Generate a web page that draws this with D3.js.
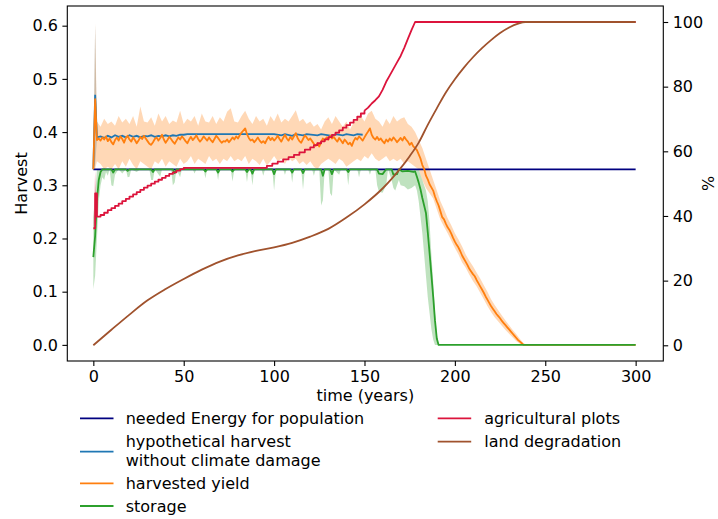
<!DOCTYPE html>
<html><head><meta charset="utf-8">
<script src="https://cdn.jsdelivr.net/npm/d3@7"></script>
<style>body{margin:0;background:#fff} text{font-family:"DejaVu Sans",sans-serif;}</style>
</head><body><svg id="chart" width="718" height="519"></svg>
<script>
// ---------------- DATA ----------------
const xTicks = [0, 50, 100, 150, 200, 250, 300];
const leftTicks = [0.0, 0.1, 0.2, 0.3, 0.4, 0.5, 0.6];
const rightTicks = [0, 20, 40, 60, 80, 100];

const neededYears = [0, 300];
const neededEnergy = [0.33, 0.33];

const hypoYears = [0,1,2,4,6,8,10,12,14,16,18,20,22,24,26,28,30,32,34,36,38,40,42,44,46,48,50,52,100,104,106,110,112,116,118,124,126,132,134,138,140,144,146,149];
const hypoHarvest = [0.33,0.47,0.39,0.392,0.389,0.393,0.39,0.394,0.391,0.393,0.39,0.394,0.391,0.393,0.39,0.393,0.392,0.394,0.391,0.393,0.392,0.394,0.392,0.394,0.393,0.395,0.395,0.396,0.396,0.394,0.396,0.393,0.396,0.394,0.396,0.394,0.396,0.393,0.396,0.394,0.396,0.394,0.396,0.395];
const hypoBand = [[0,0.33,0.33],[1,0.34,0.60],[2,0.385,0.395]];

// harvested yield, one value per year starting at year 0
const harvestedYield = [
0.330,0.462,0.385,0.388,0.384,0.390,0.386,0.392,0.383,0.388,
0.381,0.377,0.385,0.390,0.384,0.392,0.387,0.380,0.389,0.393,
0.386,0.382,0.390,0.385,0.379,0.384,0.391,0.387,0.393,0.388,
0.383,0.378,0.376,0.381,0.387,0.390,0.384,0.389,0.395,0.386,
0.380,0.385,0.391,0.387,0.382,0.378,0.384,0.390,0.386,0.392,
0.388,0.383,0.379,0.386,0.391,0.385,0.389,0.394,0.387,0.382,
0.386,0.392,0.388,0.384,0.390,0.385,0.381,0.387,0.393,0.389,
0.384,0.380,0.383,0.382,0.386,0.381,0.385,0.390,0.386,0.392,
0.388,0.394,0.399,0.403,0.407,0.396,0.389,0.384,0.386,0.381,
0.385,0.390,0.384,0.380,0.383,0.379,0.386,0.391,0.385,0.389,
0.384,0.388,0.393,0.387,0.382,0.389,0.395,0.388,0.384,0.391,
0.386,0.392,0.398,0.389,0.383,0.380,0.387,0.394,0.390,0.385,
0.388,0.383,0.378,0.374,0.379,0.373,0.381,0.388,0.384,0.390,
0.386,0.393,0.388,0.391,0.386,0.382,0.389,0.384,0.379,0.386,
0.382,0.377,0.380,0.374,0.383,0.389,0.386,0.392,0.388,0.384,
0.390,0.396,0.401,0.407,0.395,0.389,0.386,0.391,0.385,0.388,
0.383,0.379,0.386,0.382,0.388,0.384,0.390,0.386,0.381,0.385,
0.389,0.384,0.391,0.386,0.382,0.376,0.380,0.373,0.370,0.366,
0.358,0.350,0.338,0.331,0.318,0.311,0.302,0.296,0.290,0.279,
0.270,0.262,0.251,0.240,0.236,0.228,0.221,0.216,0.209,0.201,
0.194,0.188,0.183,0.176,0.168,0.162,0.156,0.150,0.143,0.138,
0.133,0.129,0.122,0.116,0.110,0.104,0.098,0.091,0.085,0.079,
0.073,0.068,0.063,0.058,0.054,0.050,0.045,0.041,0.037,0.033,
0.029,0.025,0.021,0.017,0.013,0.009,0.006,0.003,0.000];
const harvestedYieldEnd = [300, 0];

// [year, low, high]
const yieldBand = [
[0,0.33,0.33],[1,0.33,0.605],[2,0.345,0.42],[4,0.34,0.41],[6,0.33,0.425],[8,0.335,0.415],[10,0.33,0.42],[12,0.34,0.412],[14,0.33,0.43],[16,0.345,0.418],
[18,0.335,0.425],[20,0.35,0.415],[22,0.338,0.43],[24,0.33,0.41],[26,0.345,0.448],[28,0.34,0.42],[30,0.335,0.418],[32,0.33,0.428],[34,0.345,0.412],[36,0.34,0.435],
[38,0.35,0.42],[40,0.335,0.43],[42,0.345,0.415],[44,0.34,0.422],[46,0.335,0.418],[48,0.35,0.44],[50,0.34,0.415],[52,0.345,0.425],[54,0.355,0.42],[56,0.34,0.43],
[58,0.35,0.412],[60,0.345,0.435],[62,0.34,0.42],[64,0.355,0.418],[66,0.345,0.43],[68,0.35,0.415],[70,0.34,0.428],[72,0.35,0.42],[74,0.345,0.438],[76,0.355,0.445],
[78,0.345,0.42],[80,0.35,0.418],[82,0.345,0.43],[84,0.355,0.44],[86,0.34,0.425],[88,0.35,0.415],[90,0.345,0.43],[92,0.338,0.42],[94,0.35,0.425],[96,0.337,0.412],
[98,0.345,0.43],[100,0.355,0.42],[102,0.345,0.435],[104,0.35,0.418],[106,0.34,0.425],[108,0.352,0.42],[110,0.345,0.43],[112,0.35,0.441],[114,0.34,0.42],[116,0.345,0.425],
[118,0.338,0.415],[120,0.345,0.42],[122,0.335,0.41],[124,0.33,0.415],[126,0.34,0.405],[128,0.345,0.42],[130,0.35,0.428],[132,0.345,0.415],[134,0.34,0.43],[136,0.35,0.42],
[138,0.345,0.41],[140,0.335,0.42],[142,0.34,0.405],[144,0.345,0.418],[146,0.35,0.425],[148,0.345,0.43],[150,0.355,0.42],[152,0.35,0.435],[154,0.36,0.44],[156,0.35,0.425],
[158,0.345,0.42],[160,0.35,0.41],[162,0.355,0.425],[164,0.345,0.415],[166,0.35,0.43],[168,0.345,0.42],[170,0.35,0.425],[172,0.34,0.428],[174,0.345,0.415],[176,0.34,0.41],
[178,0.335,0.40],[180,0.33,0.385],[182,0.31,0.37],[184,0.295,0.35],[186,0.285,0.33],[188,0.275,0.31],[190,0.255,0.29],[192,0.235,0.27],[194,0.222,0.255],[196,0.21,0.238],
[198,0.196,0.225],[200,0.182,0.21],[202,0.17,0.198],[204,0.155,0.185],[206,0.145,0.17],[208,0.132,0.158],[210,0.12,0.148],[212,0.11,0.136],[214,0.098,0.125],[216,0.086,0.112],
[218,0.073,0.10],[220,0.062,0.086],[222,0.052,0.075],[224,0.044,0.065],[226,0.036,0.055],[228,0.028,0.046],[230,0.021,0.037],[232,0.014,0.028],[234,0.007,0.02],[236,0.002,0.011],
[238,0,0.003],[240,0,0]];

const storageYears = [0,1,2,3,4,5,10,11,12,18,19,20,32,33,34,44,45,46,61,62,63,68,69,70,76,77,78,84,85,86,87,88,89,99,100,101,109,110,111,115,116,117,126,127,128,131,132,133,140,141,142,157,158,160,162,165,166,168,169,171,174,177,178,179,180,181,182,183,184,185,186,187,188,189,190,191,300];
const storage = [0.165,0.205,0.272,0.31,0.325,0.33,0.33,0.324,0.33,0.33,0.327,0.33,0.33,0.325,0.33,0.33,0.323,0.33,0.33,0.326,0.33,0.33,0.324,0.33,0.33,0.326,0.33,0.33,0.325,0.33,0.33,0.322,0.33,0.33,0.321,0.33,0.33,0.324,0.33,0.33,0.323,0.33,0.33,0.318,0.33,0.33,0.321,0.33,0.33,0.325,0.33,0.33,0.322,0.321,0.33,0.33,0.32,0.321,0.33,0.326,0.327,0.325,0.326,0.316,0.305,0.292,0.276,0.262,0.248,0.212,0.173,0.132,0.091,0.046,0.012,0,0];

// [year, low, high]
const storageBand = [
[0,0.105,0.24],[1,0.13,0.28],[2,0.2,0.33],[3,0.27,0.33],[4,0.3,0.33],[5,0.315,0.33],[6,0.31,0.33],[7,0.325,0.33],[8,0.318,0.33],[9,0.33,0.33],
[10,0.3,0.33],[11,0.298,0.33],[12,0.32,0.33],[14,0.33,0.33],[16,0.322,0.33],[18,0.33,0.33],[19,0.315,0.33],[20,0.316,0.33],[21,0.33,0.33],[24,0.325,0.33],
[26,0.33,0.33],[31,0.33,0.33],[32,0.31,0.33],[33,0.31,0.33],[34,0.33,0.33],[37,0.316,0.33],[38,0.33,0.33],[43,0.33,0.33],[44,0.3,0.33],[45,0.305,0.33],
[46,0.33,0.33],[48,0.315,0.33],[49,0.33,0.33],[55,0.33,0.33],[56,0.322,0.33],[57,0.33,0.33],[61,0.33,0.33],[62,0.313,0.33],[63,0.33,0.33],[68,0.33,0.33],
[69,0.31,0.33],[70,0.33,0.33],[76,0.33,0.33],[77,0.307,0.33],[78,0.33,0.33],[84,0.33,0.33],[85,0.306,0.33],[86,0.33,0.33],[87,0.33,0.33],[88,0.3,0.33],
[89,0.33,0.33],[93,0.33,0.33],[94,0.318,0.33],[95,0.33,0.33],[99,0.33,0.33],[100,0.29,0.33],[101,0.33,0.33],[105,0.33,0.33],[106,0.32,0.33],[107,0.33,0.33],
[109,0.33,0.33],[110,0.305,0.33],[111,0.33,0.33],[115,0.33,0.33],[116,0.292,0.33],[117,0.33,0.33],[121,0.33,0.33],[122,0.318,0.33],[123,0.33,0.33],[125,0.33,0.33],
[126,0.262,0.33],[127,0.272,0.33],[128,0.33,0.33],[130,0.33,0.33],[131,0.285,0.33],[132,0.28,0.33],[133,0.33,0.33],[136,0.32,0.33],[137,0.33,0.33],[140,0.33,0.33],
[141,0.3,0.33],[142,0.33,0.33],[146,0.33,0.33],[147,0.315,0.33],[148,0.33,0.33],[152,0.33,0.33],[153,0.32,0.33],[154,0.33,0.33],[156,0.33,0.33],[157,0.3,0.33],
[158,0.288,0.33],[160,0.286,0.33],[162,0.3,0.33],[163,0.33,0.33],[165,0.31,0.33],[166,0.295,0.33],[167,0.29,0.33],[168,0.3,0.33],[169,0.31,0.33],[170,0.3,0.33],
[172,0.298,0.33],[174,0.292,0.33],[176,0.295,0.33],[178,0.3,0.33],[179,0.29,0.33],[180,0.27,0.33],[181,0.24,0.32],[182,0.21,0.31],[183,0.17,0.30],[184,0.13,0.29],
[185,0.09,0.27],[186,0.06,0.23],[187,0.03,0.17],[188,0.01,0.12],[189,0,0.06],[190,0,0.02],[191,0,0]];

// right axis (%)
const plotsYears = [0,1,2,4,6,8,10,12,14,16,18,20,22,24,26,28,30,32,34,36,38,40,42,44,46,48,50,96,99,102,105,108,111,114,117,120,122,124,126,128,130,132,134,136,138,140,142,144,146,148,150,152,154,156,158,160,162,164,166,168,170,172,174,176,178,300];
const agriculturalPlots = [36.2,47,39.8,40.3,41,41.8,42.4,43.1,43.8,44.6,45.3,46,46.7,47.4,48.1,48.8,49.4,50,50.6,51.2,51.8,52.4,53,53.5,54,54.5,54.9,55.5,56.2,56.8,57.5,58.2,58.9,59.7,60.5,61.2,61.9,62.5,63.1,63.7,64.4,65.1,65.8,66.5,67.3,68.1,68.9,69.7,70.7,71.7,72.6,73.5,74.8,75.8,77,79,81.5,83.5,85.5,87.5,89.5,92,94.8,97.5,100,100];
const plotsBand = [[0,36.2,36.2],[1,38,54],[2,39.5,40.5]];
const plotsStepUntil = 150;

const degradationYears = [0,10,20,30,40,50,60,70,80,90,100,110,120,130,140,150,160,165,170,175,180,185,190,195,200,205,210,215,220,225,230,235,239,300];
const landDegradation = [0,4.8,9.5,13.9,17.4,20.5,23.4,25.9,27.8,29.2,30.3,31.7,33.6,36,39.5,43.6,48.5,51.5,54.8,58.5,62.7,68.2,73.3,78.2,82.3,85.9,89.1,91.9,94.4,96.6,98.3,99.5,100,100];

const legendLabels = [["needed Energy for population"],["hypothetical harvest","without climate damage"],["harvested yield"],["storage"],["agricultural plots"],["land degradation"]];
const legendColors = ["#000080","#1f77b4","#ff7f0e","#2ca02c","#dc143c","#a0522d"];

// ---------------- DRAW ----------------
const svg = d3.select('#chart');
const P = {left:67.3, right:663.3, top:6, bottom:361};
const FS = 16;
const x = d3.scaleLinear().domain([-14.4, 315.3]).range([P.left, P.right]);
const yL = d3.scaleLinear().domain([-0.0303, 0.637]).range([P.bottom, P.top]);
const yR = d3.scaleLinear().domain([-4.86, 104.95]).range([P.bottom, P.top]);

svg.append('rect').attr('width',718).attr('height',519).attr('fill','#fff');
svg.append('clipPath').attr('id','clip').append('rect')
  .attr('x',P.left).attr('y',P.top).attr('width',P.right-P.left).attr('height',P.bottom-P.top);
const g = svg.append('g').attr('clip-path','url(#clip)');

const areaL = d3.area().x(d=>x(d[0])).y0(d=>yL(d[1])).y1(d=>yL(d[2]));
const areaR = d3.area().x(d=>x(d[0])).y0(d=>yR(d[1])).y1(d=>yR(d[2]));
const lineL = d3.line().x(d=>x(d[0])).y(d=>yL(d[1]));
const lineR = d3.line().x(d=>x(d[0])).y(d=>yR(d[1]));
const lineRStep = d3.line().curve(d3.curveStepAfter).x(d=>x(d[0])).y(d=>yR(d[1]));
const zip = (a,b)=>a.map((v,i)=>[v,b[i]]);

// bands
g.append('path').attr('d',areaL(hypoBand)).attr('fill','#1f77b4').attr('fill-opacity',0.3);
g.append('path').attr('d',areaL(yieldBand)).attr('fill','#ff7f0e').attr('fill-opacity',0.3);
g.append('path').attr('d',areaL(storageBand)).attr('fill','#2ca02c').attr('fill-opacity',0.3);

const sw = 1.8;
g.append('path').attr('d',lineL(zip(neededYears,neededEnergy))).attr('fill','none').attr('stroke',legendColors[0]).attr('stroke-width',sw);
g.append('path').attr('d',lineL(zip(hypoYears,hypoHarvest))).attr('fill','none').attr('stroke',legendColors[1]).attr('stroke-width',sw);
const yieldPts = harvestedYield.map((v,i)=>[i,v]).concat([harvestedYieldEnd]);
g.append('path').attr('d',lineL(yieldPts)).attr('fill','none').attr('stroke',legendColors[2]).attr('stroke-width',sw).attr('stroke-linejoin','round');
g.append('path').attr('d',lineL(zip(storageYears,storage))).attr('fill','none').attr('stroke',legendColors[3]).attr('stroke-width',sw).attr('stroke-linejoin','round');

// right axis series
g.append('path').attr('d',areaR(plotsBand)).attr('fill','#dc143c').attr('fill-opacity',0.3);
const plotsPts = zip(plotsYears,agriculturalPlots);
g.append('path').attr('d',lineRStep(plotsPts.filter(d=>d[0]<=plotsStepUntil)) + lineR(plotsPts.filter(d=>d[0]>=plotsStepUntil)))
  .attr('fill','none').attr('stroke',legendColors[4]).attr('stroke-width',sw).attr('stroke-linejoin','round');
g.append('path').attr('d',d3.line().curve(d3.curveMonotoneX).x(d=>x(d[0])).y(d=>yR(d[1]))(zip(degradationYears,landDegradation))).attr('fill','none').attr('stroke',legendColors[5]).attr('stroke-width',sw);

// frame
svg.append('rect').attr('x',P.left).attr('y',P.top).attr('width',P.right-P.left).attr('height',P.bottom-P.top)
  .attr('fill','none').attr('stroke','#000').attr('stroke-width',1.1);

function styleAxis(sel){
  sel.select('.domain').remove();
  sel.selectAll('.tick line').attr('stroke','#000').attr('stroke-width',1.1);
  sel.selectAll('.tick text').attr('fill','#000').style('font-size',FS+'px').style('font-family','DejaVu Sans');
}
svg.append('g').attr('transform',`translate(0,${P.bottom})`)
  .call(d3.axisBottom(x).tickValues(xTicks).tickSize(4.9).tickPadding(4.5).tickFormat(d3.format('d'))).call(styleAxis);
svg.append('g').attr('transform',`translate(${P.left},0)`)
  .call(d3.axisLeft(yL).tickValues(leftTicks).tickSize(4.9).tickPadding(4.5).tickFormat(d3.format('.1f'))).call(styleAxis);
svg.append('g').attr('transform',`translate(${P.right},0)`)
  .call(d3.axisRight(yR).tickValues(rightTicks).tickSize(4.9).tickPadding(4.5).tickFormat(d3.format('d'))).call(styleAxis);

// axis labels
svg.append('text').attr('x',(P.left+P.right)/2).attr('y',401).attr('text-anchor','middle').style('font-size',FS+'px').text('time (years)');
svg.append('text').attr('transform',`translate(27,${(P.top+P.bottom)/2}) rotate(-90)`).attr('text-anchor','middle').style('font-size',FS+'px').text('Harvest');
svg.append('text').attr('transform',`translate(714,${(P.top+P.bottom)/2}) rotate(-90)`).attr('text-anchor','middle').style('font-size',FS+'px').text('%');

// legend
const legendPos = [
  {lx:80, tx:125.7, ys:[418.3], ly:418.3},
  {lx:80, tx:125.7, ys:[441.7,460.2], ly:451.7},
  {lx:80, tx:125.7, ys:[483.3], ly:483.3},
  {lx:80, tx:125.7, ys:[506], ly:506},
  {lx:437.7, tx:484.3, ys:[418.3], ly:418.3},
  {lx:437.7, tx:484.3, ys:[441.7], ly:441.7}
];
const lg = svg.append('g');
legendLabels.forEach((lines,i)=>{
  const p = legendPos[i];
  lg.append('line').attr('x1',p.lx).attr('x2',p.lx+33.5).attr('y1',p.ly).attr('y2',p.ly).attr('stroke',legendColors[i]).attr('stroke-width',sw);
  lines.forEach((t,j)=>{
    lg.append('text').attr('x',p.tx).attr('y',p.ys[j]).attr('dy','0.36em').style('font-size',FS+'px').attr('fill','#000').text(t);
  });
});
</script></body></html>
